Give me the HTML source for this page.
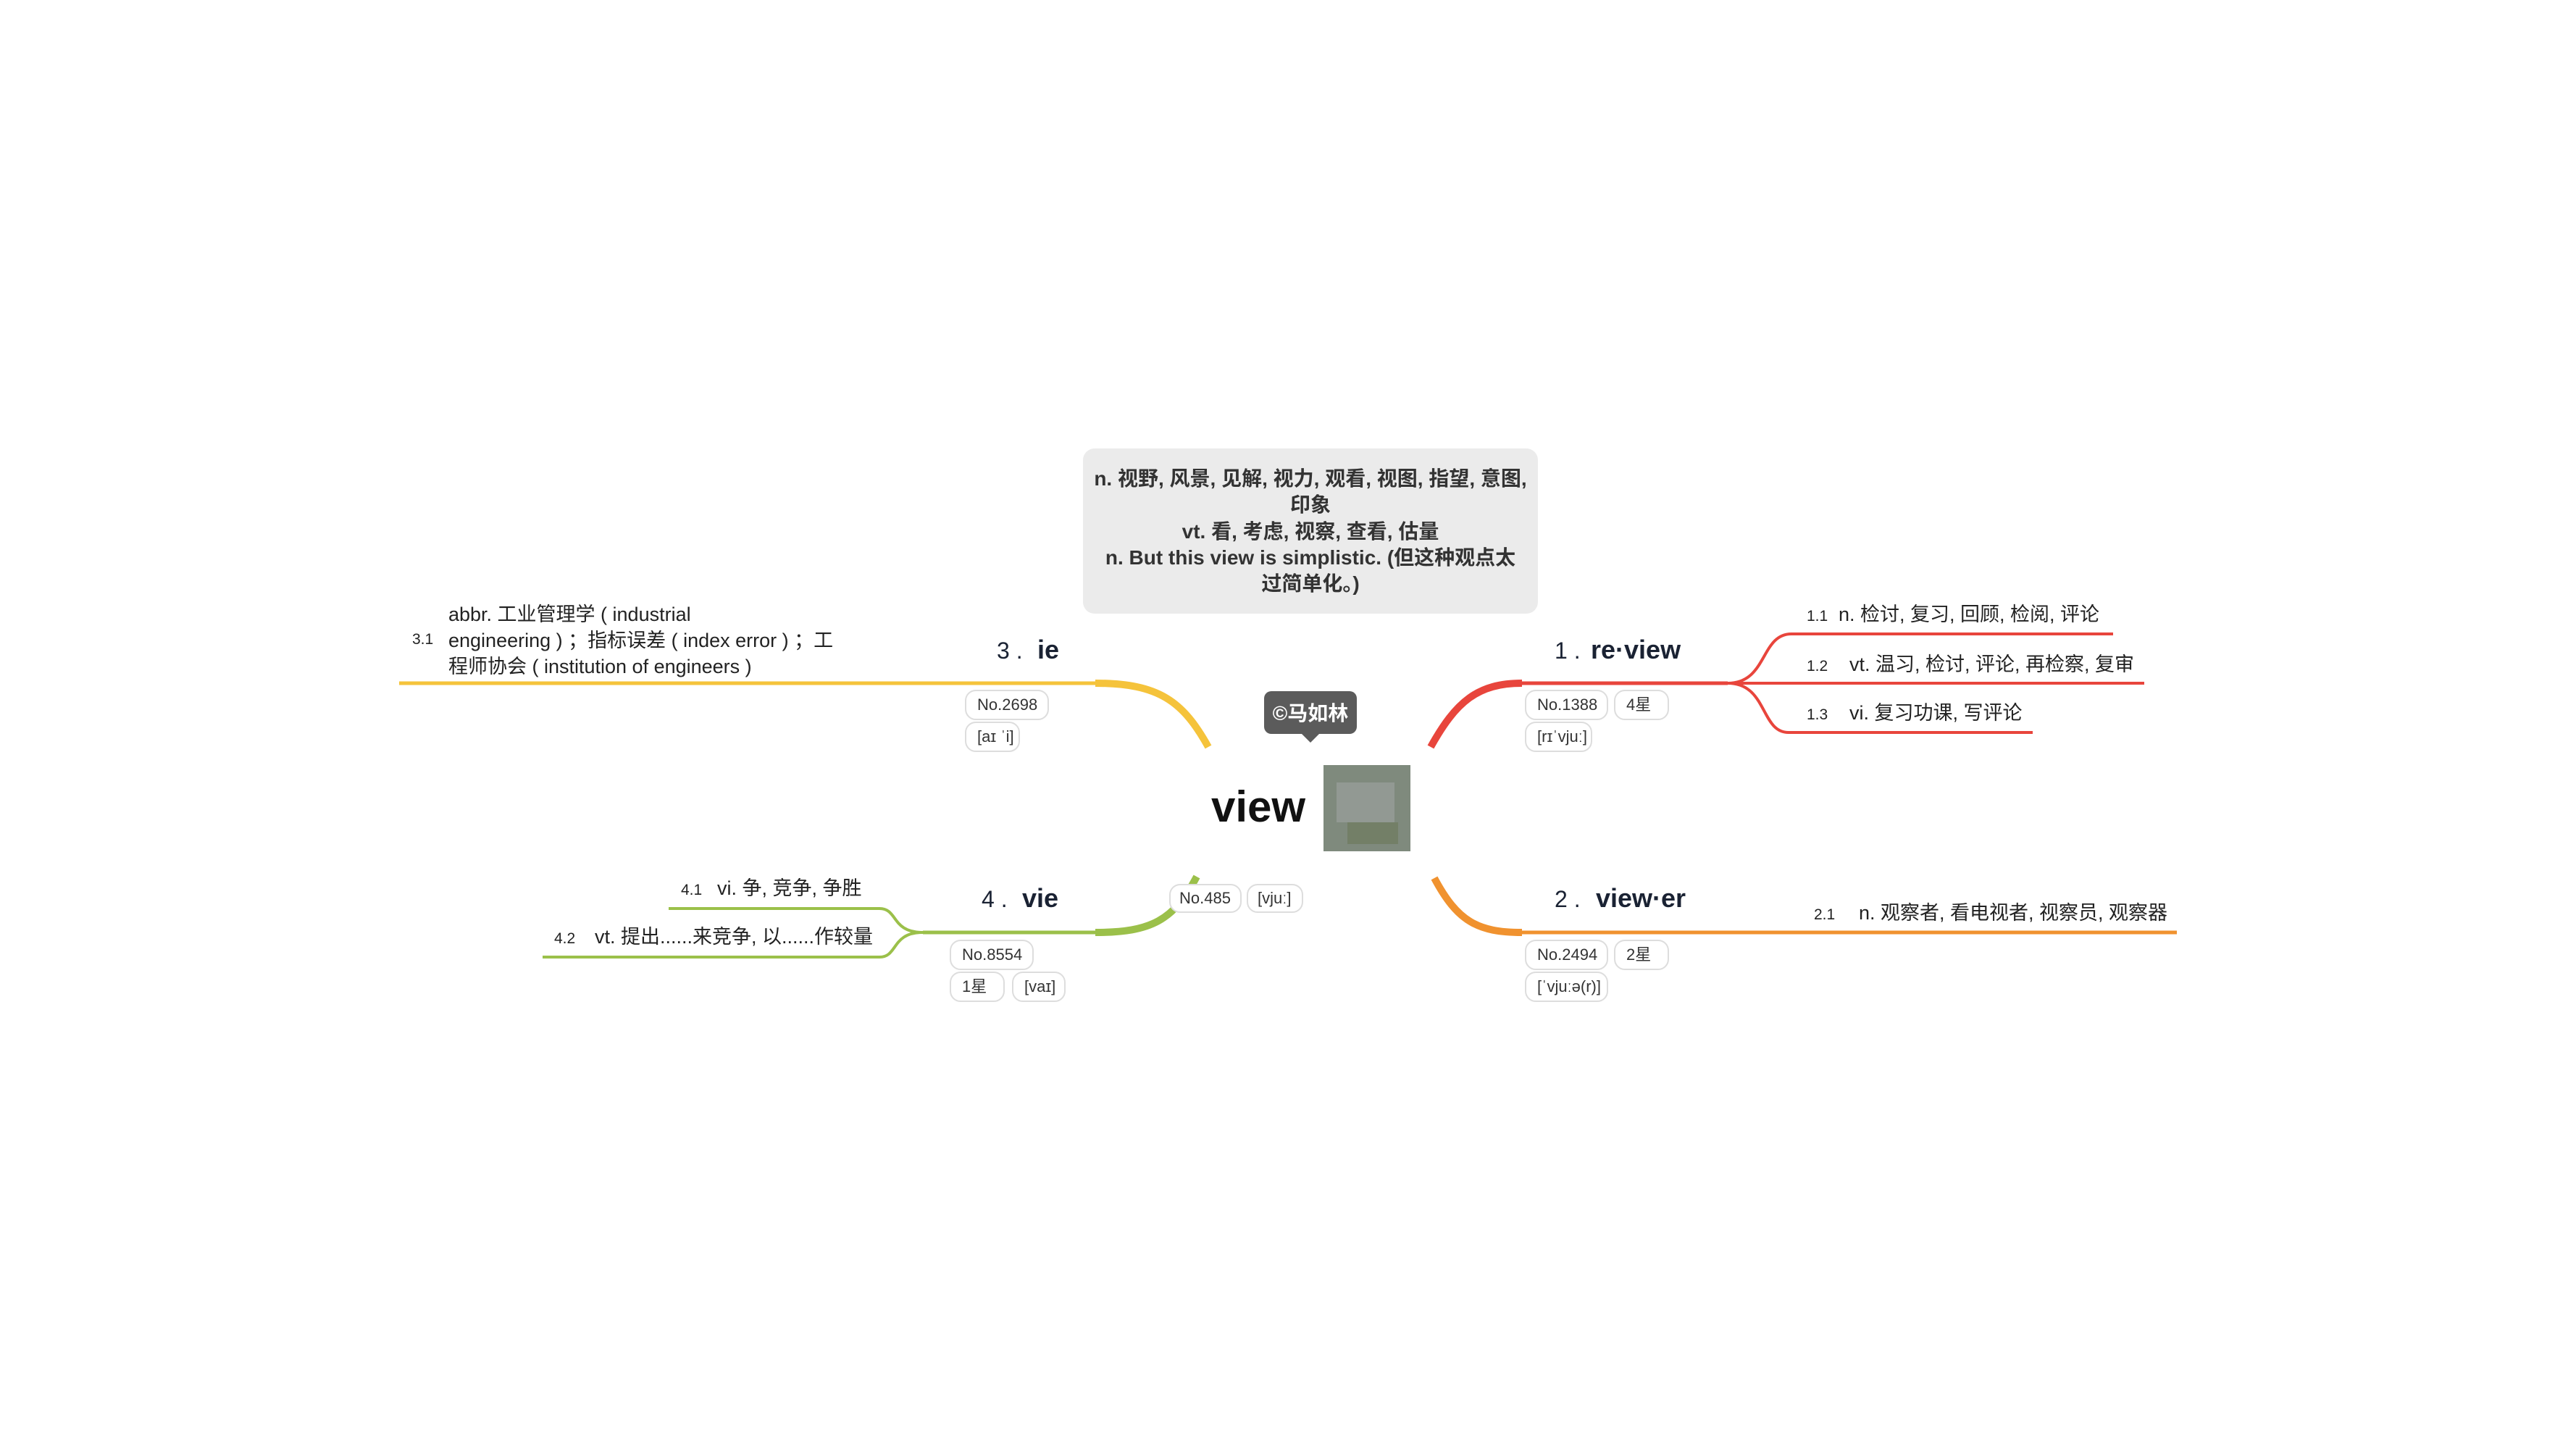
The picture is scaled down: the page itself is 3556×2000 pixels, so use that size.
<!DOCTYPE html>
<html><head><meta charset="utf-8"><style>
html,body{margin:0;padding:0;background:#fff;}
svg{display:block;}
text{font-family:"Liberation Sans","Noto Sans CJK SC",sans-serif;}
</style></head><body>
<svg width="3556" height="2000" viewBox="0 0 3556 2000" xmlns="http://www.w3.org/2000/svg">
<rect width="3556" height="2000" fill="#fff"/>
<!-- note box -->
<rect x="1495" y="619" width="628" height="228" rx="16" fill="#ebebeb"/>
<g font-size="28" font-weight="bold" fill="#333" text-anchor="middle">
<text x="1809" y="670">n. 视野, 风景, 见解, 视力, 观看, 视图, 指望, 意图,</text>
<text x="1809" y="706">印象</text>
<text x="1809" y="743">vt. 看, 考虑, 视察, 查看, 估量</text>
<text x="1809" y="779">n. But this view is simplistic. (但这种观点太</text>
<text x="1809" y="815">过简单化。)</text>
</g>
<!-- branch lines -->
<g fill="none" stroke-linecap="butt">
<path d="M1975,1031 C2010,968 2040,943 2101,943" stroke="#e8453c" stroke-width="10"/>
<path d="M2098,943 L2385,943" stroke="#e8453c" stroke-width="5"/>
<path d="M2385,943 C2440,943 2430,875 2473,875 L2917,875" stroke="#e8453c" stroke-width="4"/>
<path d="M2385,943 L2960,943" stroke="#e8453c" stroke-width="4"/>
<path d="M2385,943 C2440,943 2430,1011 2469,1011 L2806,1011" stroke="#e8453c" stroke-width="4"/>

<path d="M1980,1212 C2012,1272 2040,1287 2101,1287" stroke="#f0922f" stroke-width="10"/>
<path d="M2098,1287 L3005,1287" stroke="#f0922f" stroke-width="5"/>

<path d="M1668,1031 C1633,968 1600,943 1512,943" stroke="#f5c33b" stroke-width="10"/>
<path d="M1515,943 L551,943" stroke="#f5c33b" stroke-width="5"/>

<path d="M1652,1210 C1620,1270 1590,1287 1512,1287" stroke="#9bc04a" stroke-width="10"/>
<path d="M1515,1287 L1274,1287" stroke="#9bc04a" stroke-width="5"/>
<path d="M1274,1287 C1230,1287 1240,1254 1214,1254 L923,1254" stroke="#9bc04a" stroke-width="4"/>
<path d="M1274,1287 C1230,1287 1240,1321 1214,1321 L749,1321" stroke="#9bc04a" stroke-width="4"/>
</g>
<!-- tooltip -->
<rect x="1745" y="954" width="128" height="59" rx="10" fill="#5b5b5b"/>
<polygon points="1796,1012 1822,1012 1809,1025" fill="#5b5b5b"/>
<text x="1809" y="994" font-size="28" font-weight="bold" fill="#fff" text-anchor="middle">©马如林</text>
<!-- center -->
<text x="1672" y="1134" font-size="60" font-weight="bold" fill="#111">view</text>
<rect x="1827" y="1056" width="120" height="119" fill="#7f8a7d"/>
<rect x="1845" y="1080" width="80" height="55" fill="#9aa09c" opacity="0.7"/>
<rect x="1860" y="1135" width="70" height="30" fill="#6d7a5e" opacity="0.7"/>
<g font-size="22" fill="#333">
<rect x="1615" y="1221" width="98" height="38" rx="14" fill="#fff" stroke="#ddd" stroke-width="2"/>
<text x="1628" y="1247">No.485</text>
<rect x="1722" y="1221" width="76" height="38" rx="14" fill="#fff" stroke="#ddd" stroke-width="2"/>
<text x="1736" y="1247">[vjuː]</text>
</g>
<!-- titles -->
<g fill="#1a2233">
<text x="2146" y="909" font-size="32">1 .</text>
<text x="2196" y="909" font-size="36" font-weight="bold">re·view</text>
<text x="2146" y="1252" font-size="32">2 .</text>
<text x="2203" y="1252" font-size="36" font-weight="bold">view·er</text>
<text x="1376" y="909" font-size="32">3 .</text>
<text x="1432" y="909" font-size="36" font-weight="bold">ie</text>
<text x="1355" y="1252" font-size="32">4 .</text>
<text x="1411" y="1252" font-size="36" font-weight="bold">vie</text>
</g>
<!-- sub labels -->
<g fill="#222" font-size="27">
<text x="2494" y="857" font-size="21">1.1</text><text x="2538" y="857">n. 检讨, 复习, 回顾, 检阅, 评论</text>
<text x="2494" y="926" font-size="21">1.2</text><text x="2553" y="926">vt. 温习, 检讨, 评论, 再检察, 复审</text>
<text x="2494" y="993" font-size="21">1.3</text><text x="2553" y="993">vi. 复习功课, 写评论</text>
<text x="2504" y="1269" font-size="21">2.1</text><text x="2566" y="1269">n. 观察者, 看电视者, 视察员, 观察器</text>
<text x="569" y="889" font-size="21">3.1</text>
<text x="619" y="857">abbr. 工业管理学 ( industrial</text>
<text x="619" y="893">engineering ) ；指标误差 ( index error ) ；工</text>
<text x="619" y="929">程师协会 ( institution of engineers )</text>
<text x="940" y="1235" font-size="21">4.1</text><text x="990" y="1235">vi. 争, 竞争, 争胜</text>
<text x="765" y="1302" font-size="21">4.2</text><text x="821" y="1302">vt. 提出......来竞争, 以......作较量</text>
</g>
<!-- tags -->
<g font-size="22" fill="#333">
<rect x="2106" y="953" width="113" height="40" rx="14" fill="#fff" stroke="#ddd" stroke-width="2"/><text x="2122" y="980">No.1388</text>
<rect x="2229" y="953" width="74" height="40" rx="14" fill="#fff" stroke="#ddd" stroke-width="2"/><text x="2245" y="980">4星</text>
<rect x="2106" y="997" width="91" height="40" rx="14" fill="#fff" stroke="#ddd" stroke-width="2"/><text x="2122" y="1024">[rɪˈvjuː]</text>

<rect x="2106" y="1298" width="113" height="40" rx="14" fill="#fff" stroke="#ddd" stroke-width="2"/><text x="2122" y="1325">No.2494</text>
<rect x="2229" y="1298" width="74" height="40" rx="14" fill="#fff" stroke="#ddd" stroke-width="2"/><text x="2245" y="1325">2星</text>
<rect x="2106" y="1342" width="113" height="40" rx="14" fill="#fff" stroke="#ddd" stroke-width="2"/><text x="2122" y="1369">[ˈvjuːə(r)]</text>

<rect x="1333" y="953" width="114" height="40" rx="14" fill="#fff" stroke="#ddd" stroke-width="2"/><text x="1349" y="980">No.2698</text>
<rect x="1333" y="997" width="74" height="40" rx="14" fill="#fff" stroke="#ddd" stroke-width="2"/><text x="1349" y="1024">[aɪ ˈi]</text>

<rect x="1312" y="1298" width="114" height="40" rx="14" fill="#fff" stroke="#ddd" stroke-width="2"/><text x="1328" y="1325">No.8554</text>
<rect x="1312" y="1342" width="74" height="40" rx="14" fill="#fff" stroke="#ddd" stroke-width="2"/><text x="1328" y="1369">1星</text>
<rect x="1398" y="1342" width="72" height="40" rx="14" fill="#fff" stroke="#ddd" stroke-width="2"/><text x="1414" y="1369">[vaɪ]</text>
</g>
</svg>
</body></html>
